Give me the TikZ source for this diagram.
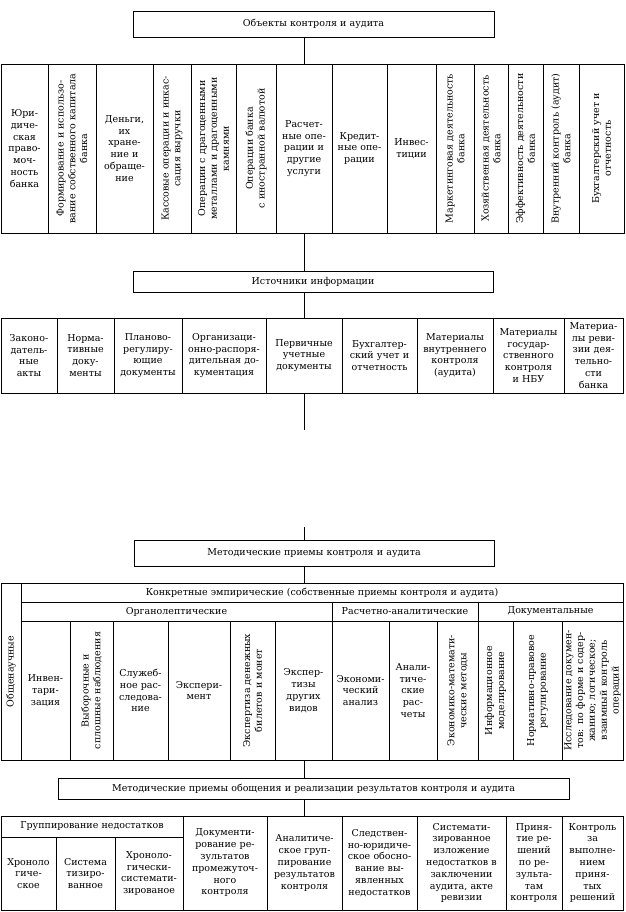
\documentclass[tikz,border=0pt]{standalone}
\usepackage{fontspec}
\setmainfont{DejaVu Serif}
\newcommand\cellfont{\fontsize{9.5}{11.8}\selectfont}
\tikzset{
  cell/.style={draw, line width=0.75pt, inner sep=0pt, align=center, font=\cellfont},
  conn/.style={draw, line width=0.75pt},
}
% name, x1, y1, x2, y2, text
\newcommand\hcell[6]{%
  \pgfmathsetmacro\cw{#4-#2}\pgfmathsetmacro\ch{#5-#3}\pgfmathsetmacro\tw{#4-#2-4}%
  \node[cell, minimum width=\cw pt, minimum height=\ch pt, text width=\tw pt]
    (#1) at ({(#2+#4)/2},{(#3+#5)/2}) {#6};}
\newcommand\vcell[6]{%
  \pgfmathsetmacro\cw{#4-#2}\pgfmathsetmacro\ch{#5-#3}\pgfmathsetmacro\tw{#5-#3-6}%
  \node[cell, rotate=90, minimum width=\ch pt, minimum height=\cw pt, text width=\tw pt]
    (#1) at ({(#2+#4)/2},{(#3+#5)/2}) {#6};}
\begin{document}
\begin{tikzpicture}[x=1pt,y=-1pt]
\useasboundingbox (0,0) rectangle (625,912);
\fill[white] (0,0) rectangle (625,912);
% headers
\hcell{h1}{133}{11}{494}{37}{Объекты контроля и аудита}
\hcell{h2}{133}{271}{493}{292}{Источники информации}
\hcell{h3}{134}{540}{494}{566}{Методические приемы контроля и аудита}
\hcell{h4}{58}{778}{569}{799}{Методические приемы обощения и реализации результатов контроля и аудита}
% row 1
\hcell{r1a}{1}{64}{48}{233}{Юри-\\диче-\\ская\\право-\\моч-\\ность\\банка}
\vcell{r1b}{48}{64}{96}{233}{Формирование и использо-\\вание собственного капитала\\банка}
\hcell{r1c}{96}{64}{153}{233}{Деньги,\\их\\хране-\\ние и\\обраще-\\ние}
\vcell{r1d}{153}{64}{191}{233}{Кассовые операции и инкас-\\сация выручки}
\vcell{r1e}{191}{64}{236}{233}{Операции с драгоценными\\металлами и драгоценными\\камнями}
\vcell{r1f}{236}{64}{276}{233}{Операции банка\\с иностранной валютой}
\hcell{r1g}{276}{64}{332}{233}{Расчет-\\ные опе-\\рации и\\другие\\услуги}
\hcell{r1h}{332}{64}{387}{233}{Кредит-\\ные опе-\\рации}
\hcell{r1i}{387}{64}{436}{233}{Инвес-\\тиции}
\vcell{r1j}{436}{64}{474}{233}{Маркетинговая деятельность\\банка}
\vcell{r1k}{474}{64}{508}{233}{Хозяйственная деятельность\\банка}
\vcell{r1l}{508}{64}{543}{233}{Эффективность деятельности\\банка}
\vcell{r1m}{543}{64}{579}{233}{Внутренний контроль (аудит)\\банка}
\vcell{r1n}{579}{64}{624}{233}{Бухгалтерский учет и\\отчетность}
% row 2
\hcell{r2a}{1}{318}{57}{393}{Законо-\\датель-\\ные\\акты}
\hcell{r2b}{57}{318}{114}{393}{Норма-\\тивные\\доку-\\менты}
\hcell{r2c}{114}{318}{182}{393}{Планово-\\регулиру-\\ющие\\документы}
\hcell{r2d}{182}{318}{266}{393}{Организаци-\\онно-распоря-\\дительная до-\\кументация}
\hcell{r2e}{266}{318}{342}{393}{Первичные\\учетные\\документы}
\hcell{r2f}{342}{318}{417}{393}{Бухгалтер-\\ский учет и\\отчетность}
\hcell{r2g}{417}{318}{493}{393}{Материалы\\внутреннего\\контроля\\(аудита)}
\hcell{r2h}{493}{318}{564}{393}{Материалы\\государ-\\ственного\\контроля\\и НБУ}
\hcell{r2i}{564}{318}{623}{393}{Материа-\\лы реви-\\зии дея-\\тельно-\\сти\\банка}
% block 3
\vcell{b3o}{1}{583}{21}{760}{Общенаучные}
\hcell{b3k}{21}{583}{623}{602}{Конкретные эмпирические (собственные приемы контроля и аудита)}
\hcell{b3s1}{21}{602}{332}{621}{Органолептические}
\hcell{b3s2}{332}{602}{478}{621}{Расчетно-аналитические}
\hcell{b3s3}{478}{602}{623}{621}{Документальные}
\hcell{b3a}{21}{621}{70}{760}{Инвен-\\тари-\\зация}
\vcell{b3b}{70}{621}{113}{760}{Выборочные и\\сплошные наблюдения}
\hcell{b3c}{113}{621}{168}{760}{Служеб-\\ное рас-\\следова-\\ние}
\hcell{b3d}{168}{621}{230}{760}{Экспери-\\мент}
\vcell{b3e}{230}{621}{275}{760}{Экспертиза денежных\\билетов и монет}
\hcell{b3f}{275}{621}{332}{760}{Экспер-\\тизы\\других\\видов}
\hcell{b3g}{332}{621}{389}{760}{Экономи-\\ческий\\анализ}
\hcell{b3h}{389}{621}{437}{760}{Анали-\\тиче-\\ские\\рас-\\четы}
\vcell{b3i}{437}{621}{478}{760}{Экономико-математи-\\ческие методы}
\vcell{b3j}{478}{621}{513}{760}{Информационное\\моделирование}
\vcell{b3l}{513}{621}{562}{760}{Нормативно-правовое\\регулирование}
\vcell{b3m}{562}{621}{623}{760}{Исследование докумен-\\тов: по форме и содер-\\жанию; логическое;\\взаимный контроль\\операций}
% block 4
\hcell{b4g}{1}{816}{183}{837}{Группирование недостатков}
\hcell{b4a}{1}{837}{56}{910}{Хроноло\\гиче-\\ское}
\hcell{b4b}{56}{837}{115}{910}{Система\\тизиро-\\ванное}
\hcell{b4c}{115}{837}{183}{910}{Хроноло-\\гически-\\системати-\\зированое}
\hcell{b4d}{183}{816}{267}{910}{Документи-\\рование ре-\\зультатов\\промежуточ-\\ного\\контроля}
\hcell{b4e}{267}{816}{342}{910}{Аналитиче-\\ское груп-\\пирование\\результатов\\контроля}
\hcell{b4f}{342}{816}{417}{910}{Следствен-\\но-юридиче-\\ское обосно-\\вание вы-\\явленных\\недостатков}
\hcell{b4h}{417}{816}{506}{910}{Системати-\\зированное\\изложение\\недостатков в\\заключении\\аудита, акте\\ревизии}
\hcell{b4i}{506}{816}{562}{910}{Приня-\\тие ре-\\шений\\по ре-\\зульта-\\там\\контроля}
\hcell{b4j}{562}{816}{623}{910}{Контроль\\за\\выполне-\\нием\\приня-\\тых\\решений}
% spine connectors
\coordinate (sp) at (304,0);
\coordinate (g1) at (304,430);
\coordinate (g2) at (304,527);
\draw[conn] (h1.south -| sp) -- (r1g.north -| sp);
\draw[conn] (r1g.south -| sp) -- (h2.north -| sp);
\draw[conn] (h2.south -| sp) -- (r2e.north -| sp);
\draw[conn] (r2e.south -| sp) -- (g1);
\draw[conn] (g2) -- (h3.north -| sp);
\draw[conn] (h3.south -| sp) -- (b3k.north -| sp);
\draw[conn] (b3f.south -| sp) -- (h4.north -| sp);
\draw[conn] (h4.south -| sp) -- (b4e.north -| sp);
\end{tikzpicture}
\end{document}
